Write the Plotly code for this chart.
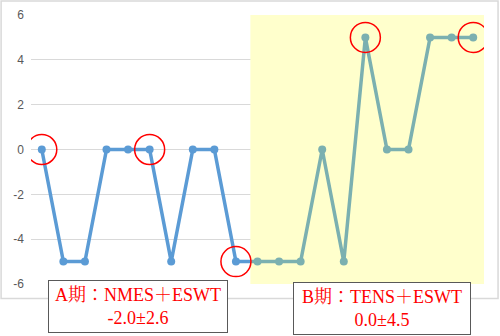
import plotly.graph_objects as go

# Data
A_x = list(range(1, 11))
A_y = [0, -5, -5, 0, 0, 0, -5, 0, 0, -5]
B_x = list(range(11, 22))
B_y = [-5, -5, -5, 0, -5, 5, 0, 0, 5, 5, 5]
circled_x = [1, 6, 10, 16, 21]
y_ticks = [-6, -4, -2, 0, 2, 4, 6]
y_tick_text = ["-6", "-4", "-2", "0", "2", "4", "6"]
label_A = "A期：NMES＋ESWT<br>-2.0±2.6"
label_B = "B期：TENS＋ESWT<br>0.0±4.5"

all_x = A_x + B_x
all_y = A_y + B_y
circled_y = [all_y[all_x.index(v)] for v in circled_x]

BLUE = "#5B9BD5"
TEAL = "#7BB0B0"

# phase boundary between phases (where the shading starts)
frac = 0.67
bx = A_x[-1] + frac * (B_x[0] - A_x[-1])
by = A_y[-1] + frac * (B_y[0] - A_y[-1])

fig = go.Figure()
fig.add_trace(go.Scatter(x=[bx] + B_x, y=[by] + B_y, mode="lines",
                         line=dict(color=TEAL, width=3.5), hoverinfo="skip"))
fig.add_trace(go.Scatter(x=B_x, y=B_y, mode="markers",
                         marker=dict(color=TEAL, size=8)))
fig.add_trace(go.Scatter(x=A_x + [bx], y=A_y + [by], mode="lines",
                         line=dict(color=BLUE, width=3.5), hoverinfo="skip"))
fig.add_trace(go.Scatter(x=A_x, y=A_y, mode="markers",
                         marker=dict(color=BLUE, size=8)))
fig.add_trace(go.Scatter(x=circled_x, y=circled_y, mode="markers",
                         marker=dict(symbol="circle-open", size=30,
                                     color="#FF0000",
                                     line=dict(color="#FF0000", width=1.5))))

fig.add_shape(type="rect", xref="x", yref="y", x0=bx, x1=B_x[-1] + 0.5,
              y0=y_ticks[0], y1=y_ticks[-1], fillcolor="#FFFFCC",
              line=dict(width=0), layer="between")
fig.add_shape(type="rect", xref="paper", yref="paper", x0=-0.066, x1=1.031,
              y0=-0.054, y1=1.052, line=dict(color="#D9D9D9", width=1.5),
              fillcolor="rgba(0,0,0,0)", layer="above")

font_box = dict(family="Liberation Serif, Noto Serif CJK JP, Noto Sans CJK JP",
                size=18, color="#FF0000")
fig.add_annotation(text=label_A, xref="paper", yref="paper", x=0.236, y=-0.084,
                   showarrow=False, font=font_box, bgcolor="white",
                   bordercolor="#595959", borderwidth=1, width=176, height=49,
                   align="center", xanchor="center", yanchor="middle")
fig.add_annotation(text=label_B, xref="paper", yref="paper", x=0.775, y=-0.091,
                   showarrow=False, font=font_box, bgcolor="white",
                   bordercolor="#595959", borderwidth=1, width=174, height=49,
                   align="center", xanchor="center", yanchor="middle")

fig.update_layout(
    width=500, height=336,
    margin=dict(l=31, r=16, t=15, b=52, autoexpand=False),
    paper_bgcolor="white", plot_bgcolor="white",
    showlegend=False,
    xaxis=dict(range=[A_x[0] - 0.5, B_x[-1] + 0.5], showgrid=False,
               showticklabels=False, zeroline=False, showline=False),
    yaxis=dict(range=[y_ticks[0], y_ticks[-1]], tickvals=y_ticks,
               ticktext=y_tick_text,
               showgrid=True, gridcolor="#D9D9D9", gridwidth=1,
               zeroline=False, showline=False, ticklabelstandoff=6,
               tickfont=dict(family="Liberation Sans, Open Sans", size=12,
                             color="#595959")),
)

fig.write_html("out.html", config={"displayModeBar": False},
               post_script="document.body.style.margin='0';")
